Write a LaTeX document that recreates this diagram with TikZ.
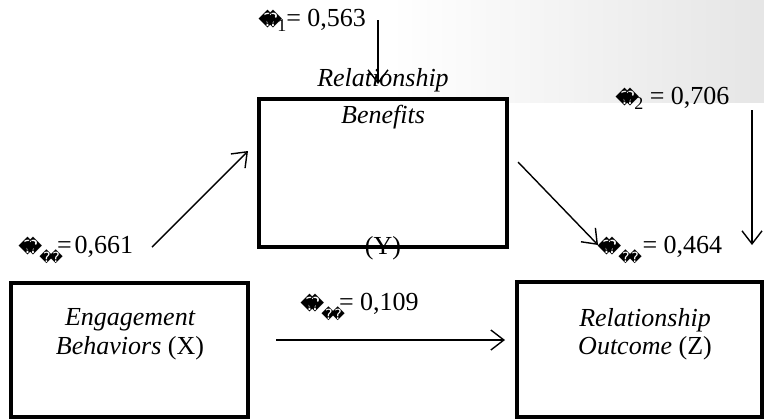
\documentclass[tikz,border=0pt]{standalone}
\usepackage{fontspec}
\setmainfont{Liberation Serif}
\newfontfamily\glyphfont{DejaVu Sans}
\usetikzlibrary{arrows.meta, positioning}
\newcommand\badglyph[1]{{\glyphfont\fontsize{#1}{#1}\selectfont\char"FFFD}}
\newcommand\errsym[1]{\badglyph{9}\kern-6.5pt\badglyph{9}\kern-2.5pt\raisebox{-.4ex}{\fontsize{9}{10}\selectfont #1}}
\newcommand\pathsym{\badglyph{9}\kern-6.5pt\badglyph{9}\kern-1.5pt\raisebox{-.7ex}{\badglyph{7}\kern-2.5pt\badglyph{7}}\kern-3pt}

\begin{document}
\begin{tikzpicture}[x=0.5pt, y=-0.5pt,
  font=\fontsize{13}{15}\selectfont,
  varbox/.style={draw, line width=2pt, fill=white},
  vartext/.style={font=\fontsize{13}{15}\selectfont\itshape, inner sep=0pt},
  coef/.style={inner sep=0pt, anchor=west},
  path arrow/.style={-{Straight Barb[length=6.5pt, width=10pt]}, line width=0.7pt}]
\useasboundingbox (0,0) rectangle (764,418);
% faint watermark shade, top right
\shade[left color=white, right color=black!10] (390,0) rectangle (764,102);

% Variable boxes
\draw[varbox] (259,99) rectangle (507,247);
\draw[varbox] (11,283) rectangle (248,417);
\draw[varbox] (517,282) rectangle (762,417);

% Box labels
\node[vartext] (yname1) at (383,80) {Relationship};
\node[vartext] (yname2) at (383,117) {Benefits};
\node[inner sep=0pt] (yletter) at (383,248) {(Y)};
\node[vartext] (xname1) at (130,320) {Engagement};
\node[inner sep=0pt] (xname2) at (130,348) {\textit{Behaviors} (X)};
\node[vartext] (zname1) at (645,320) {Relationship};
\node[inner sep=0pt] (zname2) at (645,348) {\textit{Outcome} (Z)};

% Coefficients
\node[coef] (err1) at (258,20) {\errsym{1}= 0,563};
\node[coef] (err2) at (615,98) {\errsym{2} = 0,706};
\node[coef] (pyx) at (18,250) {\pathsym=\kern1.5pt0,661};
\node[coef] (pzx) at (300,307) {\pathsym= 0,109};
\node[coef] (pzy) at (597,250) {\pathsym\ = 0,464};

% Arrow ends
\coordinate (e1top) at (378,20);
\coordinate (e1end) at (378,84);
\coordinate (e2top) at (752,110);
\coordinate (e2end) at (752,245);
\coordinate (xyfrom) at (152,247);
\coordinate (xyto) at (248,151);
\coordinate (yzfrom) at (518,162);
\coordinate (yzto) at (598,245);
\coordinate (xzfrom) at (276,340);
\coordinate (xzto) at (505,340);

\draw[path arrow] (e1top) -- (e1end);
\draw[path arrow] (e2top) -- (e2end);
\draw[path arrow] (xyfrom) -- (xyto);
\draw[path arrow] (yzfrom) -- (yzto);
\draw[path arrow] (xzfrom) -- (xzto);
\end{tikzpicture}
\end{document}
